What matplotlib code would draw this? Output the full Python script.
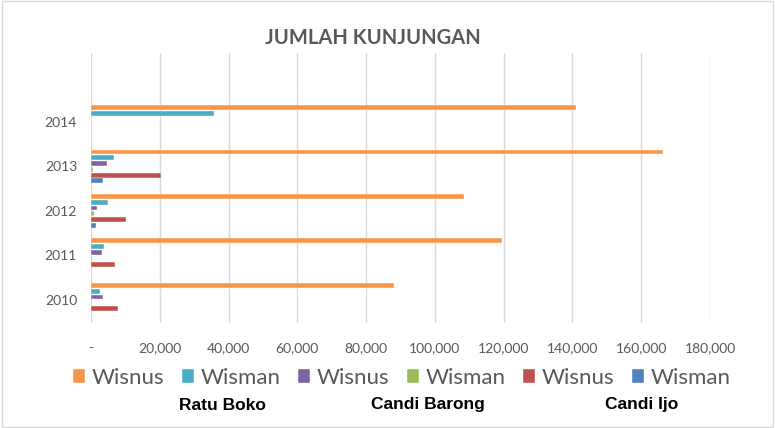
import numpy as np
import matplotlib.pyplot as plt
from matplotlib.patches import Rectangle

plt.rcParams['font.family'] = ['Lato', 'DejaVu Sans']

# data
years = ['2010', '2011', '2012', '2013', '2014']
ratu_boko_wisnus = [88100, 119600, 108600, 166300, 141000]
ratu_boko_wisman = [2600, 3700, 4800, 6700, 35900]
barong_wisnus = [3500, 3300, 1700, 4600, 0]
barong_wisman = [0, 200, 900, 600, 0]
ijo_wisnus = [7800, 6900, 10300, 20300, 0]
ijo_wisman = [0, 0, 1500, 3400, 0]

series = [ratu_boko_wisnus, ratu_boko_wisman, barong_wisnus,
          barong_wisman, ijo_wisnus, ijo_wisman]
labels = ['Wisnus', 'Wisman', 'Wisnus', 'Wisman', 'Wisnus', 'Wisman']
colors = ['#F79646', '#4BACC6', '#8064A2', '#9BBB59', '#C0504D', '#4F81BD']

fig = plt.figure(figsize=(7.75, 4.28), dpi=100)
ax = fig.add_axes([91/775, 1-323/428, (710-91)/775, 270/428])

y = np.arange(len(years))
slot = 0.13
for j, (vals, lab, c) in enumerate(zip(series, labels, colors)):
    ax.barh(y + (2.5 - j) * slot, vals, height=0.11, color=c, label=lab,
            edgecolor='white', linewidth=0.3)

ax.set_xlim(0, 180000)
ax.set_ylim(-0.52, 5.55)
ax.set_yticks(y)
ax.set_yticklabels(years)
ticks = np.arange(0, 180001, 20000)
ax.set_xticks(ticks)
ax.set_xticklabels(['-'] + [f'{t:,}' for t in ticks[1:]])
ax.tick_params(axis='both', length=0, labelsize=10, colors='#595959')
ax.tick_params(axis='x', pad=14)
ax.tick_params(axis='y', pad=10)
ax.grid(axis='x', color='#D9D9D9', linewidth=1)
ax.set_axisbelow(True)
for s in ax.spines.values():
    s.set_visible(False)

fig.text(373/775, 1-38/428, 'JUMLAH KUNJUNGAN', ha='center', va='center',
         fontsize=14.5, fontweight='bold', color='#595959')

fig.legend(loc='center', bbox_to_anchor=(402/775, 1-378/428), ncol=6,
           frameon=False, fontsize=16, labelcolor='#595959',
           handlelength=0.55, handleheight=0.55, handletextpad=0.3,
           columnspacing=0.78)

for name, xc in [('Ratu Boko', 222), ('Candi Barong', 428), ('Candi Ijo', 642)]:
    fig.text(xc/775, 1-405/428, name, ha='center', va='center', fontsize=12.5,
             fontweight='bold', family=['Liberation Sans'], color='black')

fig.patches.append(Rectangle((0.002, 0.002), 0.996, 0.996, transform=fig.transFigure,
                             fill=False, edgecolor='#D9D9D9', linewidth=1))

fig.savefig('out.png', dpi=100)
